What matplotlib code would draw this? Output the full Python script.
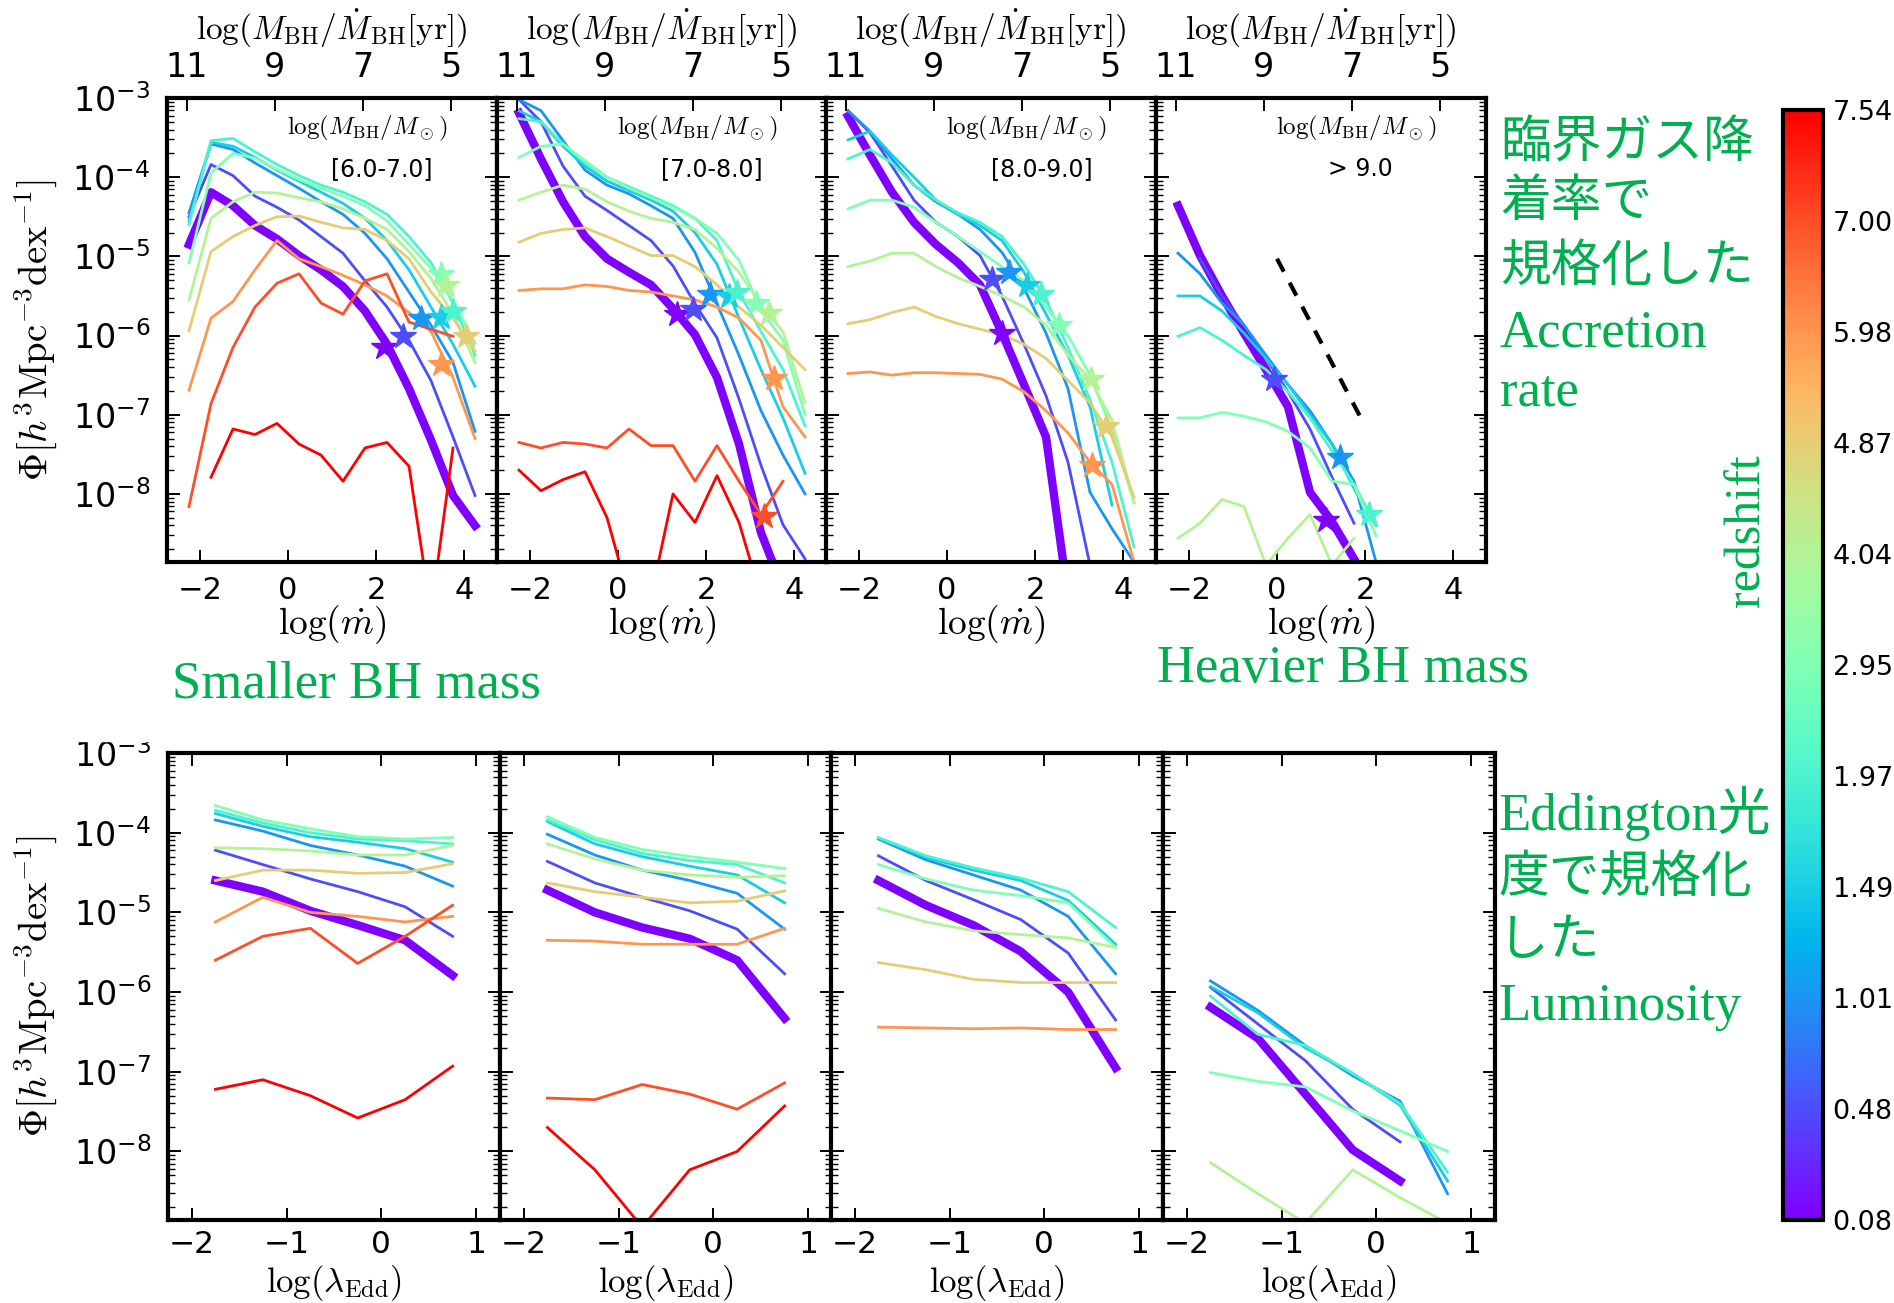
import numpy as np
import matplotlib
matplotlib.use("Agg")
import matplotlib.pyplot as plt
from matplotlib import colors
from matplotlib.patches import Rectangle

plt.rcParams["mathtext.fontset"] = "cm"
plt.rcParams["font.family"] = "DejaVu Sans"

nan = float("nan")

# ------------------------------------------------------------------ data
redshifts = [0.08, 0.48, 1.01, 1.49, 1.97, 2.95, 4.04, 4.87, 5.98, 7.00, 7.54]

mdot_bins = [-2.25, -1.75, -1.25, -0.75, -0.25, 0.25, 0.75,
             1.25, 1.75, 2.25, 2.75, 3.25, 3.75, 4.25]
lam_bins = [-1.75, -1.25, -0.75, -0.25, 0.25, 0.75]
tdyn_ticks = [11, 9, 7, 5]          # top axis, log(M_BH / Mdot_BH [yr])
tdyn_zero = 8.7                     # log(M/Mdot) = 8.7 - log(mdot)
phi_decades = [-3, -4, -5, -6, -7, -8]

mass_bins = ["[6.0-7.0]", "[7.0-8.0]", "[8.0-9.0]", "> 9.0"]

# log10 Phi, one row per redshift (same order as `redshifts`)
acc_m6 = [
    [-4.85, -4.19, -4.36, -4.61, -4.78, -4.99, -5.17, -5.38, -5.69, -6.11, -6.67, -7.32, -8.02, -8.40],
    [-4.50, -3.84, -3.98, -4.24, -4.38, -4.54, -4.75, -4.96, -5.31, -5.64, -6.06, -6.57, -7.28, -8.02],
    [-4.45, -3.58, -3.65, -3.82, -3.98, -4.14, -4.31, -4.47, -4.71, -5.03, -5.45, -5.87, -6.34, -7.21],
    [-4.55, -3.56, -3.61, -3.75, -3.91, -4.05, -4.19, -4.33, -4.52, -4.80, -5.17, -5.64, -6.11, -6.64],
    [-4.60, -3.54, -3.51, -3.68, -3.84, -3.98, -4.10, -4.19, -4.31, -4.47, -4.75, -5.08, -5.59, -6.25],
    [-5.08, -3.95, -3.70, -3.76, -3.90, -4.03, -4.14, -4.24, -4.36, -4.55, -4.85, -5.15, -5.55, -6.10],
    [-5.55, -4.52, -4.31, -4.19, -4.20, -4.26, -4.31, -4.40, -4.52, -4.66, -4.94, -5.28, -5.73, -6.34],
    [-5.94, -4.94, -4.75, -4.61, -4.50, -4.49, -4.57, -4.64, -4.66, -4.80, -5.03, -5.45, -5.78, -6.20],
    [-6.69, -5.78, -5.57, -5.17, -4.80, -5.03, -5.13, -5.24, -5.36, -5.50, -5.71, -5.95, -6.53, -7.30],
    [-8.16, -6.86, -6.15, -5.64, -5.34, -5.22, -5.59, -5.73, -5.31, -5.22, -5.83, -5.92, -6.01, nan],
    [nan, -7.79, -7.18, -7.25, -7.11, -7.37, -7.51, -7.84, -7.42, -7.35, -7.65, -9.50, -7.42, nan],
]
acc_m7 = [
    [-3.19, -3.77, -4.31, -4.75, -5.03, -5.20, -5.36, -5.66, -5.99, -6.53, -7.37, -8.49, -9.20, -9.40],
    [-3.02, -3.30, -3.86, -4.24, -4.42, -4.61, -4.80, -5.12, -5.60, -6.03, -6.80, -7.64, -8.39, -8.82],
    [-3.02, -3.16, -3.54, -3.91, -4.10, -4.21, -4.36, -4.52, -4.95, -5.60, -6.25, -6.95, -7.51, -8.00],
    [-3.16, -3.30, -3.61, -3.86, -4.05, -4.17, -4.29, -4.43, -4.70, -5.10, -5.78, -6.43, -7.04, -7.74],
    [-3.26, -3.30, -3.58, -3.82, -4.00, -4.12, -4.24, -4.36, -4.52, -4.80, -5.45, -5.95, -6.43, -7.14],
    [-3.75, -3.61, -3.58, -3.79, -4.00, -4.14, -4.26, -4.38, -4.52, -4.71, -5.05, -5.68, -6.06, -7.00],
    [-4.29, -4.19, -4.10, -4.15, -4.31, -4.43, -4.52, -4.57, -4.66, -4.90, -5.20, -5.62, -5.95, -6.85],
    [-4.82, -4.71, -4.66, -4.64, -4.75, -4.87, -4.99, -4.99, -5.13, -5.36, -5.64, -5.87, -6.15, -6.43],
    [-5.43, -5.41, -5.41, -5.36, -5.38, -5.43, -5.45, -5.50, -5.55, -5.64, -5.78, -6.06, -6.90, -7.28],
    [-7.35, -7.42, -7.35, -7.37, -7.42, -7.18, -7.39, -7.39, -7.84, -7.39, -7.84, -8.26, -7.84, nan],
    [-7.70, -7.96, -7.82, -7.72, -8.30, -9.30, -9.30, -8.00, -8.36, -7.77, -8.36, -9.30, nan, nan],
]
acc_m8 = [
    [-3.23, -3.72, -4.19, -4.57, -4.85, -5.08, -5.36, -5.97, -6.62, -7.28, -9.30, nan, nan, nan],
    [-3.16, -3.44, -3.86, -4.29, -4.57, -4.75, -4.99, -5.50, -6.11, -6.76, -7.60, -8.90, nan, nan],
    [-3.16, -3.42, -3.77, -4.10, -4.31, -4.47, -4.66, -4.95, -5.40, -5.97, -6.67, -7.98, -8.44, -8.86],
    [-3.53, -3.42, -3.72, -4.00, -4.29, -4.47, -4.61, -4.80, -5.20, -5.73, -6.25, -6.90, -8.14, nan],
    [-3.77, -3.65, -3.82, -4.10, -4.29, -4.45, -4.57, -4.75, -5.10, -5.55, -6.15, -6.81, -7.60, -8.67],
    [-4.40, -4.29, -4.29, -4.38, -4.57, -4.75, -4.94, -5.13, -5.31, -5.64, -6.00, -6.50, -7.20, -8.11],
    [-5.13, -5.06, -4.96, -4.96, -5.13, -5.27, -5.38, -5.50, -5.64, -5.87, -6.25, -6.55, -7.07, -8.11],
    [-5.85, -5.80, -5.71, -5.64, -5.76, -5.85, -5.92, -5.99, -6.11, -6.29, -6.57, -6.85, -7.28, -8.04],
    [-6.48, -6.46, -6.50, -6.47, -6.47, -6.48, -6.49, -6.55, -6.71, -6.95, -7.23, -7.60, -7.88, -8.86],
    [nan] * 14,
    [nan] * 14,
]
acc_m9 = [
    [-4.36, -4.99, -5.50, -5.97, -6.43, -6.90, -7.98, -8.35, -8.82, nan, nan, nan, nan, nan],
    [nan, -5.03, -5.50, -5.87, -6.29, -6.71, -7.18, -7.79, -8.37, nan, nan, nan, nan, nan],
    [-4.96, -5.22, -5.59, -5.87, -6.25, -6.62, -6.95, -7.37, -7.84, -8.86, nan, nan, nan, nan],
    [-5.50, -5.50, -5.69, -5.97, -6.29, -6.62, -7.00, -7.37, -7.93, -8.40, nan, nan, nan, nan],
    [-6.01, -5.90, -6.06, -6.25, -6.43, -6.71, -7.04, -7.46, -7.88, -8.40, nan, nan, nan, nan],
    [-7.04, -7.04, -6.97, -7.02, -7.09, -7.21, -7.42, -7.84, -7.88, -8.53, nan, nan, nan, nan],
    [-8.56, -8.37, -8.07, -8.16, -8.90, -8.56, -8.26, -8.90, -8.56, nan, nan, nan, nan, nan],
    [nan] * 14,
    [nan] * 14,
    [nan] * 14,
    [nan] * 14,
]

# star markers (x = log mdot, y = log10 Phi), nan = no star
star_x_m6 = [2.19, 2.61, 3.03, 3.48, 3.75, 3.48, 3.60, 4.05, 3.48, nan, nan]
star_y_m6 = [-6.15, -6.01, -5.78, -5.76, -5.69, -5.22, -5.36, -6.01, -6.36, nan, nan]
star_x_m7 = [1.33, 1.71, 2.09, 2.52, 2.71, 3.13, 3.43, nan, 3.55, 3.32, nan]
star_y_m7 = [-5.73, -5.66, -5.48, -5.50, -5.45, -5.59, -5.71, nan, -6.53, -8.28, nan]
star_x_m8 = [1.25, 1.03, 1.40, 1.82, 2.13, 2.54, 3.27, 3.61, 3.30, nan, nan]
star_y_m8 = [-5.97, -5.29, -5.20, -5.36, -5.48, -5.87, -6.55, -7.14, -7.63, nan, nan]
star_x_m9 = [1.12, -0.06, 1.44, nan, 2.10, nan, nan, nan, nan, nan, nan]
star_y_m9 = [-8.33, -6.55, -7.53, nan, -8.26, nan, nan, nan, nan, nan, nan]

# reference slope in the > 9.0 panel
slope_x = [0.0, 2.0]
slope_y = [-5.03, -7.14]

lam_m6 = [
    [-4.60, -4.74, -4.98, -5.16, -5.35, -5.79],
    [-4.22, -4.40, -4.58, -4.74, -4.93, -5.30],
    [-3.84, -3.98, -4.16, -4.28, -4.42, -4.67],
    [-3.76, -3.92, -4.05, -4.12, -4.20, -4.37],
    [-3.72, -3.88, -4.00, -4.08, -4.10, -4.14],
    [-3.66, -3.84, -3.95, -4.05, -4.08, -4.06],
    [-4.19, -4.20, -4.23, -4.28, -4.28, -4.16],
    [-4.60, -4.47, -4.47, -4.51, -4.50, -4.39],
    [-5.12, -4.81, -5.00, -5.05, -5.12, -5.05],
    [-5.60, -5.30, -5.20, -5.64, -5.30, -4.91],
    [-7.22, -7.10, -7.30, -7.58, -7.35, -6.93],
]
lam_m7 = [
    [-4.72, -5.00, -5.19, -5.33, -5.60, -6.33],
    [-4.36, -4.63, -4.81, -4.98, -5.21, -5.77],
    [-4.02, -4.28, -4.47, -4.60, -4.76, -5.21],
    [-3.86, -4.14, -4.30, -4.42, -4.53, -4.88],
    [-3.84, -4.09, -4.26, -4.35, -4.40, -4.63],
    [-3.80, -4.06, -4.21, -4.30, -4.37, -4.45],
    [-4.14, -4.33, -4.47, -4.53, -4.56, -4.54],
    [-4.63, -4.74, -4.81, -4.88, -4.86, -4.73],
    [-5.35, -5.36, -5.40, -5.40, -5.40, -5.20],
    [-7.33, -7.35, -7.16, -7.28, -7.47, -7.14],
    [-7.70, -8.23, -8.95, -8.23, -8.00, -7.43],
]
lam_m8 = [
    [-4.60, -4.91, -5.16, -5.49, -6.00, -6.95],
    [-4.29, -4.60, -4.84, -5.09, -5.51, -6.35],
    [-4.08, -4.34, -4.53, -4.72, -5.05, -5.77],
    [-4.07, -4.31, -4.47, -4.60, -4.85, -5.40],
    [-4.06, -4.29, -4.44, -4.57, -4.74, -5.19],
    [-4.40, -4.58, -4.72, -4.79, -4.88, -5.44],
    [-4.95, -5.12, -5.23, -5.28, -5.32, -5.44],
    [-5.63, -5.72, -5.84, -5.88, -5.88, -5.88],
    [-6.44, -6.45, -6.46, -6.45, -6.47, -6.47],
    [nan] * 6,
    [nan] * 6,
]
lam_m9 = [
    [-6.19, -6.58, -7.28, -7.98, -8.37, nan],
    [-5.94, -6.40, -6.86, -7.47, -7.88, nan],
    [-5.86, -6.23, -6.67, -7.05, -7.37, -8.53],
    [-5.93, -6.26, -6.70, -7.02, -7.42, -8.37],
    [-6.05, -6.53, -6.67, -7.02, -7.40, -8.26],
    [-7.01, -7.12, -7.19, -7.49, -7.74, -8.00],
    [-8.14, -8.53, -8.90, -8.23, -8.58, -8.90],
    [nan] * 6,
    [nan] * 6,
    [nan] * 6,
    [nan] * 6,
]

acc_panels = [acc_m6, acc_m7, acc_m8, acc_m9]
acc_stars = [(star_x_m6, star_y_m6), (star_x_m7, star_y_m7),
             (star_x_m8, star_y_m8), (star_x_m9, star_y_m9)]
lam_panels = [lam_m6, lam_m7, lam_m8, lam_m9]

acc_note = ["臨界ガス降", "着率で", "規格化した", "Accretion", "rate"]
edd_note = ["Eddington光", "度で規格化", "した", "Luminosity"]

# ------------------------------------------------------------------ layout
W, H = 1894, 1303
cmap = plt.get_cmap("rainbow")
green = "#00b050"
mixed = ["Liberation Serif", "Noto Sans CJK JP"]
phi_label = r"$\Phi[h^3{\rm Mpc}^{-3}{\rm dex}^{-1}]$"


def px(left, top, width, height):
    return [left / W, 1 - (top + height) / H, width / W, height / H]


def style(ax, xlim, xticks, xsize, xpad):
    ax.set_yscale("log")
    ax.set_xlim(*xlim)
    ax.set_ylim(10 ** -8.86, 1e-3)
    ax.set_yticks([10.0 ** e for e in phi_decades])
    ax.set_xticks(xticks)
    ax.tick_params(which="both", direction="in", left=True, right=True)
    ax.tick_params(which="major", length=9, width=1.4, labelsize=24, pad=12)
    ax.tick_params(which="minor", length=5, width=1.0)
    ax.tick_params(axis="x", labelsize=xsize, pad=xpad)
    for s in ax.spines.values():
        s.set_linewidth(3)


def draw(ax, xb, rows, sx=None, sy=None):
    for i, row in enumerate(rows):
        col = cmap(i / (len(rows) - 1))
        ax.plot(xb, np.power(10.0, row), color=col, lw=6 if i == 0 else 2)
        if sx is not None and not np.isnan(sx[i]):
            ax.plot(sx[i], 10 ** sy[i], marker="*", ms=19, color=col,
                    mec=col, zorder=4)


fig = plt.figure(figsize=(W / 100, H / 100), dpi=100)

# ----- top row: normalised accretion rate
top_left = [167, 497, 826, 1156]
for k in range(4):
    ax = fig.add_axes(px(top_left[k], 98, 330, 464))
    draw(ax, mdot_bins, acc_panels[k], *acc_stars[k])
    if k == 3:
        ax.plot(slope_x, np.power(10.0, slope_y), color="k", lw=3,
                ls="--", dashes=(3.5, 3))
    style(ax, (-2.75, 4.75), [-2, 0, 2, 4], 22, 10)
    ax.set_xlabel(r"$\log(\dot{m})$", fontsize=27)
    ax.xaxis.set_label_coords(0.5, -0.088)
    if k > 0:
        ax.tick_params(labelleft=False)
    ax.text(0.607, 0.934, r"$\log(M_{\rm BH}/M_\odot)$", transform=ax.transAxes,
            ha="center", va="center", fontsize=18)
    ax.text([0.65, 0.65, 0.655, 0.618][k], 0.847, mass_bins[k],
            transform=ax.transAxes, ha="center", va="center", fontsize=17)

    tw = ax.twiny()
    tw.set_xlim(ax.get_xlim())
    tw.set_xticks([tdyn_zero - t for t in tdyn_ticks])
    tw.set_xticklabels([str(t) for t in tdyn_ticks])
    tw.tick_params(direction="in", length=9, width=1.4, labelsize=24, pad=10)
    for s in tw.spines.values():
        s.set_visible(False)
    tw.set_xlabel(r"$\log(M_{\rm BH}/\dot{M}_{\rm BH}[{\rm yr}])$", fontsize=24)
    tw.xaxis.set_label_coords(0.5, 1.125)

# ----- bottom row: Eddington ratio
bot_left = [168, 500, 831, 1163]
for k in range(4):
    ax = fig.add_axes(px(bot_left[k], 753, 332, 467))
    draw(ax, lam_bins, lam_panels[k])
    style(ax, (-2.25, 1.25), [-2, -1, 0, 1], 22.5, 7)
    ax.tick_params(axis="x", top=True)
    ax.set_xlabel(r"$\log(\lambda_{\rm Edd})$", fontsize=25)
    ax.xaxis.set_label_coords(0.5, -0.092)
    if k > 0:
        ax.tick_params(labelleft=False)

fig.text(35 / W, 1 - 330 / H, phi_label, rotation=90, ha="center",
         va="center", fontsize=28)
fig.text(35 / W, 1 - 986 / H, phi_label, rotation=90, ha="center",
         va="center", fontsize=28)

# the lower figure was pasted with its top edge cut off
fig.add_artist(Rectangle((0, 1 - 741 / H), 1480 / W, 21 / H,
                         transform=fig.transFigure, color="white", zorder=10))

# ----- colour bar
cax = fig.add_axes(px(1783, 110, 40, 1110))
sm = plt.cm.ScalarMappable(norm=colors.Normalize(0, len(redshifts) - 1), cmap=cmap)
cb = fig.colorbar(sm, cax=cax, ticks=range(len(redshifts)))
cb.ax.set_yticklabels([f"{z:.2f}" for z in redshifts])
cb.ax.tick_params(length=0, labelsize=19.5, pad=7)
cb.outline.set_linewidth(3)
fig.text(1747 / W, 1 - 531 / H, "redshift", rotation=90, color=green,
         family="Liberation Serif", fontsize=36, ha="center", va="center")

# ----- green notes
for line, base in zip(acc_note, [158, 216, 281, 346, 405]):
    fig.text(1500 / W, 1 - base / H, line, color=green, family=mixed,
             fontsize=38 if line[0].isascii() else 36.5, va="baseline")
for line, base in zip(edd_note, [830, 892, 955, 1020]):
    fig.text(1498 / W, 1 - base / H, line, color=green, family=mixed,
             fontsize=38 if line[0].isascii() else 36.5, va="baseline")
fig.text(172 / W, 1 - 698 / H, "Smaller BH mass", color=green,
         family="Liberation Serif", fontsize=38, va="baseline")
fig.text(1157 / W, 1 - 682 / H, "Heavier BH mass", color=green,
         family="Liberation Serif", fontsize=38, va="baseline")

fig.savefig("out.png", dpi=100)
